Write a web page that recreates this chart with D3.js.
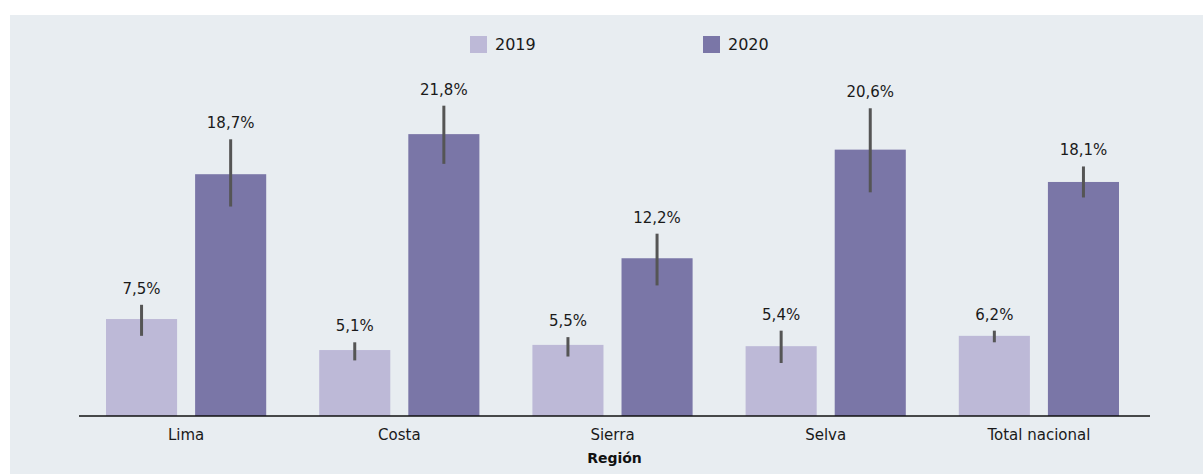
<!DOCTYPE html>
<html><head><meta charset="utf-8">
<script src="https://cdn.jsdelivr.net/npm/d3@7"></script>
<style>html,body{margin:0;padding:0;background:#fff;}svg{display:block;}</style>
</head><body>
<svg id="c" width="1203" height="474"></svg>
<script>
const categories = ["Lima","Costa","Sierra","Selva","Total nacional"];
const years = ["2019","2020"];
const values2019 = [7.5, 5.1, 5.5, 5.4, 6.2];
const values2020 = [18.7, 21.8, 12.2, 20.6, 18.1];
const low2019  = [6.2, 4.3, 4.6, 4.1, 5.7];
const high2019 = [8.6, 5.7, 6.1, 6.6, 6.6];
const low2020  = [16.2, 19.5, 10.1, 17.3, 16.9];
const high2020 = [21.4, 24.0, 14.1, 23.8, 19.3];
const labels2019 = ["7,5%","5,1%","5,5%","5,4%","6,2%"];
const labels2020 = ["18,7%","21,8%","12,2%","20,6%","18,1%"];
const colors = {"2019":"#bdb9d7","2020":"#7a76a7"};

const series = {
  "2019": {v: values2019, lo: low2019, hi: high2019, lab: labels2019},
  "2020": {v: values2020, lo: low2020, hi: high2020, lab: labels2020}
};
const rows = [];
categories.forEach((c,i)=>years.forEach(yr=>rows.push({cat:c, year:yr, v:series[yr].v[i], lo:series[yr].lo[i], hi:series[yr].hi[i], lab:series[yr].lab[i]})));

const svg = d3.select("#c");
const font = "'DejaVu Sans', sans-serif";
svg.append("rect").attr("x",10).attr("y",15).attr("width",1193).attr("height",459).attr("fill","#e8edf1");

const x0 = d3.scaleBand().domain(categories).range([79.5,1145.5]).padding(0);
const x1 = d3.scaleBand().domain(years).range([26.5, x0.bandwidth()-26.5]).paddingInner(18/89).paddingOuter(0);
const y = d3.scaleLinear().domain([0,25]).range([416, 416-25*12.93]);

const g = svg.append("g");
const bar = g.selectAll("g.b").data(rows).join("g").attr("class","b");
bar.append("rect")
  .attr("x", d=>x0(d.cat)+x1(d.year))
  .attr("y", d=>y(d.v))
  .attr("width", x1.bandwidth())
  .attr("height", d=>y(0)-y(d.v))
  .attr("fill", d=>colors[d.year]);
bar.append("line")
  .attr("x1", d=>x0(d.cat)+x1(d.year)+x1.bandwidth()/2)
  .attr("x2", d=>x0(d.cat)+x1(d.year)+x1.bandwidth()/2)
  .attr("y1", d=>y(d.hi)).attr("y2", d=>y(d.lo))
  .attr("stroke","#555").attr("stroke-width",3);
bar.append("text")
  .attr("x", d=>x0(d.cat)+x1(d.year)+x1.bandwidth()/2)
  .attr("y", d=>y(d.hi)-11)
  .attr("text-anchor","middle")
  .attr("font-family",font).attr("font-size",15).attr("fill","#1a1a1a")
  .text(d=>d.lab);

// axis
const ax = svg.append("g").attr("transform","translate(0,416)")
  .call(d3.axisBottom(x0).tickSize(0).tickPadding(13));
ax.select(".domain").attr("d","M79,0H1150").attr("stroke","#111").attr("stroke-width",1.5);
ax.selectAll("text").attr("font-family",font).attr("font-size",15).attr("fill","#1a1a1a");

svg.append("text").attr("x",614.5).attr("y",463).attr("text-anchor","middle")
  .attr("font-family",font).attr("font-size",14).attr("font-weight","bold").attr("fill","#111")
  .text("Región");

// legend
const legX = {"2019":470,"2020":703};
const leg = svg.selectAll("g.l").data(years).join("g").attr("class","l")
  .attr("transform", d=>`translate(${legX[d]},36)`);
leg.append("rect").attr("width",17).attr("height",17).attr("fill",d=>colors[d]);
leg.append("text").attr("x",25).attr("y",14).attr("font-family",font).attr("font-size",16).attr("fill","#1a1a1a").text(d=>d);
</script>
</body></html>
